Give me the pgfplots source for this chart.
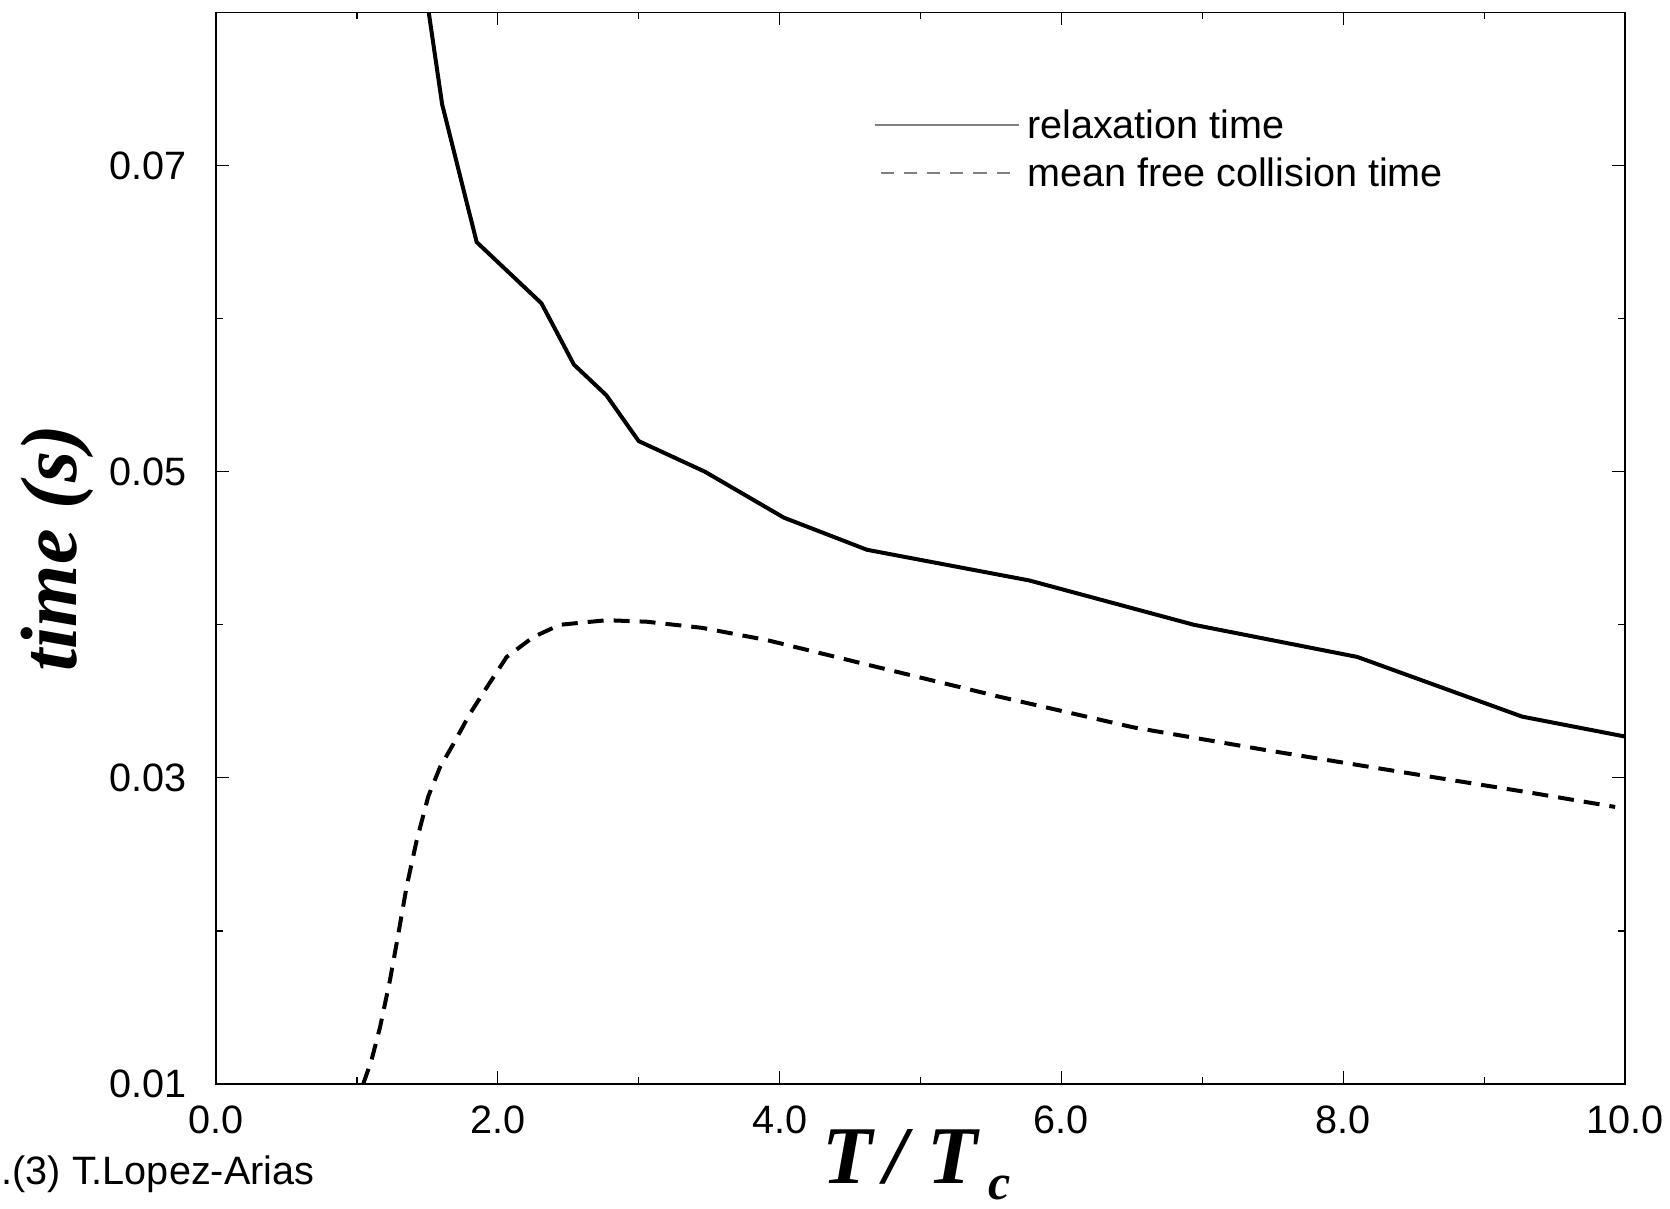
\documentclass[border=0pt]{standalone}
\usepackage{fontspec}
\setmainfont{Liberation Sans}
\newfontfamily\labelfont{Liberation Serif}
\usepackage{pgfplots}
\pgfplotsset{compat=1.18}
\begin{document}
\begin{tikzpicture}
\begin{axis}[
  name=ax,
  scale only axis,
  width=352.25pt, height=267.875pt,
  xmin=0, xmax=10, ymin=0.01, ymax=0.08,
  xtick={0,2,4,6,8,10}, xticklabels={0.0,2.0,4.0,6.0,8.0,10.0},
  minor xtick={1,3,5,7,9},
  ytick={0.01,0.03,0.05,0.07}, yticklabels={0.01,0.03,0.05,0.07},
  minor ytick={0.02,0.04,0.06,0.08},
  major tick length=3.25pt, minor tick length=1.75pt,
  tick align=inside,
  tick style={black, line width=0.3pt},
  axis line style={line width=0.35pt},
  xticklabel style={font=\fontsize{9.9}{11}\selectfont, inner sep=0pt, anchor=north, yshift=-5.25pt},
  yticklabel style={font=\fontsize{9.9}{11}\selectfont, inner sep=0pt, anchor=east, xshift=-7.2pt},
  scaled y ticks=false,
  xlabel={\labelfont\bfseries\itshape T\hspace{0.15em}/\hspace{0.25em}T\hspace{2.5pt}\raisebox{-4.2pt}{\fontsize{12.5}{12.5}\selectfont c}},
  xlabel style={at={(rel axis cs:0.497,0)}, anchor=base, yshift=-24.75pt, inner sep=0pt, font=\fontsize{20.5}{22}\selectfont},
  legend style={at={(rel axis cs:0.4663,0.909)}, anchor=north west, draw=none, fill=none,
    inner sep=0pt, row sep=5pt, column sep=1.9pt, font=\fontsize{9.9}{11}\selectfont,
    nodes={inner sep=0pt, text height=7pt, text depth=0pt}},
  legend image code/.code={\draw[#1] (0pt,0pt) -- (36pt,0pt);},
  legend cell align=left,
]
\addlegendimage{gray, line width=0.4pt}
\addlegendentry{relaxation time}
\addlegendimage{gray, line width=0.4pt, dash pattern=on 3.3pt off 2.5pt, dash phase=-1.5pt}
\addlegendentry{mean free collision time}

\addplot[forget plot, black, line width=1pt] coordinates {
(1.51,0.0800) (1.605,0.0740) (1.85,0.0650) (2.31,0.0610) (2.54,0.0570)
(2.77,0.0550) (3.00,0.0520) (3.47,0.0500) (4.03,0.0470) (4.62,0.0449)
(5.77,0.0429) (6.94,0.0400) (8.10,0.0379) (9.27,0.0340) (10.0,0.0327)
};
\addplot[forget plot, black, line width=1pt, dash pattern=on 4pt off 2.5pt] coordinates {
(1.045,0.0100) (1.105,0.0116) (1.164,0.0137) (1.235,0.0168) (1.294,0.0198)
(1.353,0.0229) (1.424,0.0259) (1.507,0.0288) (1.59,0.0307) (1.684,0.0322)
(1.803,0.0342) (1.921,0.0359) (2.063,0.0379) (2.252,0.0392) (2.44,0.0400)
(2.773,0.0403) (3.057,0.0402) (3.45,0.0398) (3.91,0.0390) (4.62,0.0374)
(5.56,0.0353) (6.51,0.0333) (7.46,0.0318) (8.40,0.0304) (9.35,0.0290)
(9.93,0.0281)
};
\end{axis}
\node[rotate=90, anchor=base, inner sep=0pt, font=\fontsize{20}{22}\selectfont] at ([xshift=-34.75pt]ax.west) {\labelfont\bfseries\itshape time (s)};
\node[anchor=base east, inner sep=0pt, font=\fontsize{9.9}{11}\selectfont] at ([shift={(24.75pt,-25.25pt)}]ax.south west) {.(3) T.Lopez-Arias};
\pgfresetboundingbox
\path[use as bounding box] ([shift={(-54pt,-31.25pt)}]ax.south west) rectangle ([shift={(11.25pt,3.125pt)}]ax.north east);
\end{tikzpicture}
\end{document}
